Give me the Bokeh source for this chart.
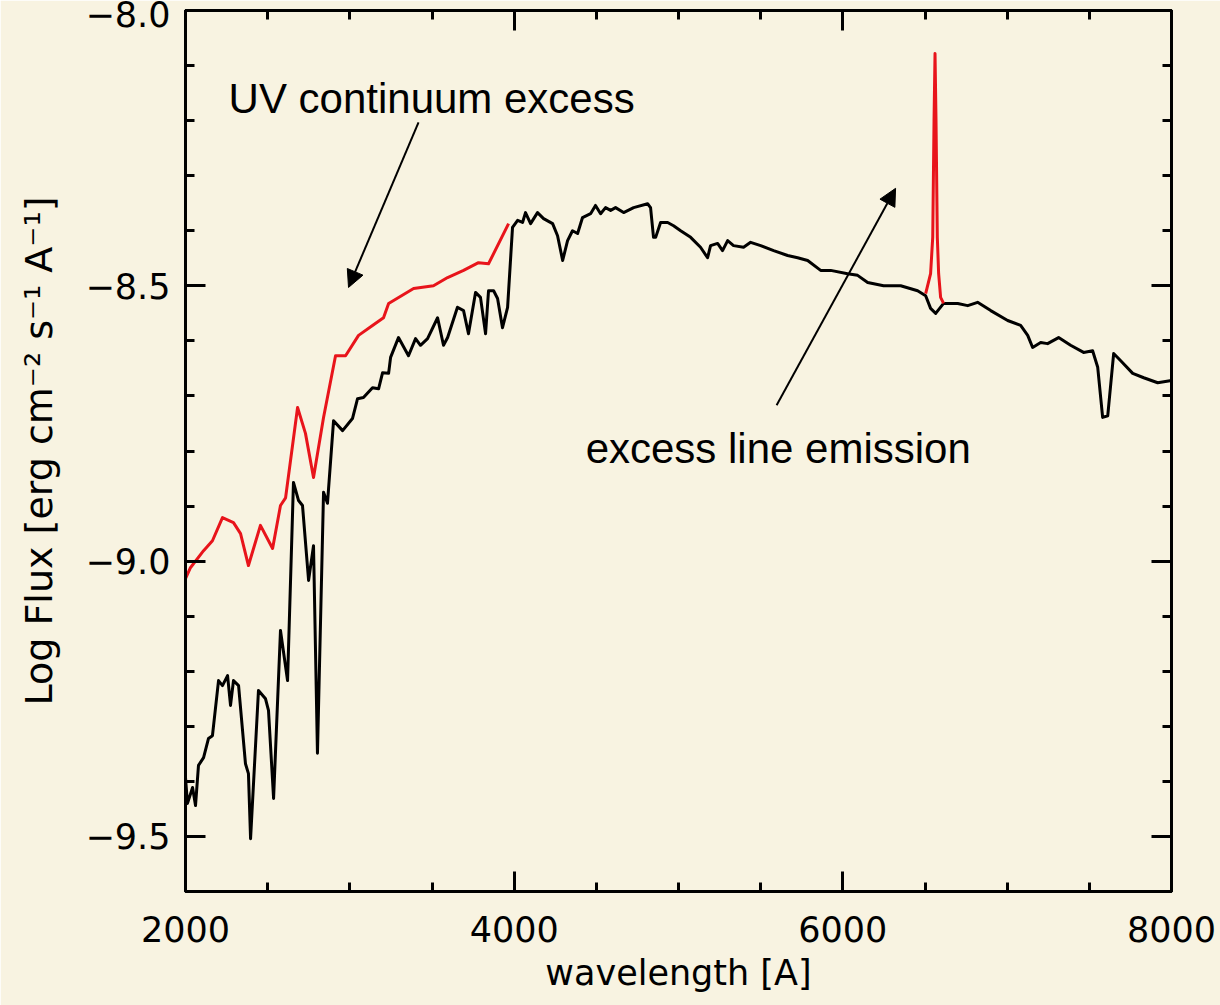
from bokeh.plotting import figure
from bokeh.models import (LinearAxis, FixedTicker, Range1d, Arrow, NormalHead, Label)
from bokeh.embed import file_html
from bokeh.resources import INLINE

# ---------------- data ----------------
black_wl = [2000, 2012, 2043, 2061, 2079, 2110, 2140, 2164, 2201, 2225, 2256, 2274, 2292, 2323,
            2365, 2383, 2396, 2444, 2487, 2505, 2536, 2578, 2621, 2657, 2688, 2712, 2749, 2779,
            2803, 2840, 2864, 2901, 2956, 3016, 3047, 3083, 3138, 3175, 3199, 3236, 3248, 3296,
            3357, 3400, 3430, 3473, 3534, 3570, 3595, 3655, 3692, 3722, 3765, 3795, 3826, 3844,
            3875, 3899, 3929, 3960, 3990, 4021, 4051, 4069, 4100, 4142, 4179, 4234, 4264, 4295,
            4325, 4355, 4386, 4416, 4465, 4495, 4526, 4556, 4587, 4617, 4666, 4727, 4812, 4830,
            4848, 4861, 4891, 4934, 4970, 5013, 5074, 5134, 5177, 5195, 5238, 5268, 5299, 5335,
            5396, 5439, 5500, 5579, 5664, 5725, 5786, 5865, 5926, 6029, 6090, 6151, 6248, 6352,
            6455, 6504, 6534, 6565, 6613, 6699, 6760, 6820, 6900, 7003, 7082, 7125, 7155, 7204,
            7246, 7313, 7386, 7465, 7520, 7551, 7581, 7612, 7648, 7691, 7764, 7831, 7916, 8000]
black_flux = [-9.393, -9.440, -9.411, -9.444, -9.371, -9.357, -9.322, -9.317, -9.217, -9.226,
              -9.208, -9.262, -9.217, -9.226, -9.368, -9.386, -9.504, -9.235, -9.250, -9.271,
              -9.431, -9.126, -9.217, -8.857, -8.890, -8.899, -9.035, -8.972, -9.349, -8.875,
              -8.895, -8.745, -8.763, -8.741, -8.705, -8.703, -8.685, -8.687, -8.658, -8.659,
              -8.630, -8.594, -8.627, -8.596, -8.608, -8.596, -8.558, -8.608, -8.594, -8.539,
              -8.545, -8.587, -8.512, -8.521, -8.587, -8.509, -8.509, -8.523, -8.576, -8.539,
              -8.394, -8.381, -8.385, -8.367, -8.387, -8.367, -8.378, -8.387, -8.409, -8.454,
              -8.418, -8.400, -8.405, -8.376, -8.369, -8.354, -8.369, -8.358, -8.363, -8.358,
              -8.367, -8.358, -8.351, -8.358, -8.412, -8.412, -8.385, -8.385, -8.391, -8.400,
              -8.412, -8.430, -8.449, -8.427, -8.423, -8.436, -8.418, -8.427, -8.430, -8.421,
              -8.427, -8.436, -8.445, -8.449, -8.454, -8.472, -8.472, -8.478, -8.481, -8.494,
              -8.500, -8.500, -8.509, -8.518, -8.541, -8.550, -8.532, -8.532, -8.536, -8.530,
              -8.545, -8.563, -8.572, -8.590, -8.612, -8.603, -8.605, -8.594, -8.608, -8.621,
              -8.618, -8.648, -8.739, -8.736, -8.623, -8.636, -8.659, -8.667, -8.676, -8.672]

uv_excess_wl = [2000, 2030, 2110, 2164, 2225, 2292, 2335, 2383, 2456, 2530, 2578, 2609, 2682,
                2730, 2779, 2840, 2913, 2974, 3053, 3138, 3205, 3236, 3388, 3509, 3595, 3692,
                3783, 3844, 3966]
uv_excess_flux = [-9.032, -9.012, -8.981, -8.963, -8.921, -8.930, -8.950, -9.008, -8.935,
                  -8.977, -8.899, -8.885, -8.721, -8.768, -8.848, -8.739, -8.627, -8.627,
                  -8.590, -8.572, -8.558, -8.532, -8.505, -8.500, -8.485, -8.472, -8.458,
                  -8.460, -8.387]

halpha_wl = [6504, 6534, 6547, 6555, 6561, 6567, 6575, 6583, 6595, 6613]
halpha_flux = [-8.514, -8.478, -8.412, -8.200, -8.078, -8.200, -8.412, -8.478, -8.521, -8.532]

x_major = [2000, 4000, 6000, 8000]
x_minor = [2500, 3000, 3500, 4500, 5000, 5500, 6500, 7000, 7500]
y_major = [-9.5, -9.0, -8.5, -8.0]
y_major_labels = ["\u22129.5", "\u22129.0", "\u22128.5", "\u22128.0"]
y_minor = [-9.6, -9.4, -9.3, -9.2, -9.1, -8.9, -8.8, -8.7, -8.6, -8.4, -8.3, -8.2, -8.1]

ann_uv_text = "UV continuum excess"
ann_uv_pos = (2262, -8.160)
ann_uv_arrow = (3418, -8.203, 2992, -8.503)
ann_line_text = "excess line emission"
ann_line_pos = (4435, -8.795)
ann_line_arrow = (5597, -8.717, 6321, -8.323)

BG = "#f8f3e1"
MAJOR_LEN = 20
MINOR_LEN = 9
TICK_FONT = "DejaVu Sans"
TICK_SIZE = "35px"

p = figure(width=1220, height=1005, x_range=Range1d(2000, 8000), y_range=Range1d(-9.6, -8.0),
           output_backend="svg", toolbar_location=None,
           min_border_left=185, min_border_right=49, min_border_top=10, min_border_bottom=114,
           background_fill_color=BG, border_fill_color=BG)
p.grid.visible = False
p.outline_line_color = "black"
p.outline_line_width = 3


def base_style(ax):
    ax.axis_line_width = 3
    ax.axis_line_color = "black"
    ax.major_tick_line_width = 3
    ax.minor_tick_line_width = 3
    ax.major_tick_line_color = "black"
    ax.minor_tick_line_color = "black"
    ax.major_tick_out = 0
    ax.minor_tick_out = 0


xa = p.xaxis[0]
ya = p.yaxis[0]
for ax, maj, mnr in ((xa, x_major, x_minor), (ya, y_major, y_minor)):
    base_style(ax)
    ax.ticker = FixedTicker(ticks=maj, minor_ticks=mnr)
    ax.major_tick_in = MAJOR_LEN
    ax.minor_tick_in = MINOR_LEN
    ax.major_label_text_font = TICK_FONT
    ax.major_label_text_font_size = TICK_SIZE
    ax.major_label_text_color = "black"

xa.major_label_standoff = 24
xa.axis_label = "wavelength [A]"
xa.axis_label_text_font = "DejaVu Sans"
xa.axis_label_text_font_size = "35px"
xa.axis_label_text_font_style = "normal"
xa.axis_label_text_color = "black"
xa.axis_label_standoff = 8

ya.major_label_standoff = 15
ya.major_label_overrides = {v: s for v, s in zip(y_major, y_major_labels)}
ya.axis_label = "Log Flux [erg cm\u207b\u00b2 s\u207b\u00b9 A\u207b\u00b9]"
ya.axis_label_text_font = "DejaVu Sans"
ya.axis_label_text_font_size = "38px"
ya.axis_label_text_font_style = "normal"
ya.axis_label_text_color = "black"
ya.axis_label_standoff = 22

# mirrored tick marks on the top and right edges (label-free axes:
# the tick positions are passed as "minor" ticks so that no labels are drawn)
for side, ticks_list in (("above", (x_major, x_minor)), ("right", (y_major, y_minor))):
    for ticks, length in zip(ticks_list, (MAJOR_LEN, MINOR_LEN)):
        ax = LinearAxis(ticker=FixedTicker(ticks=[], minor_ticks=ticks))
        base_style(ax)
        ax.minor_tick_in = length
        ax.major_label_standoff = 0
        p.add_layout(ax, side)

p.line(black_wl, black_flux, line_color="black", line_width=3, line_join="round")
p.line(uv_excess_wl, uv_excess_flux, line_color="#e8141b", line_width=3, line_join="round")
p.line(halpha_wl, halpha_flux, line_color="#e8141b", line_width=3, line_join="round")

for (x0, y0, x1, y1) in (ann_uv_arrow, ann_line_arrow):
    p.add_layout(Arrow(end=NormalHead(size=17, fill_color="black", line_color="black", line_width=1),
                       x_start=x0, y_start=y0, x_end=x1, y_end=y1,
                       line_color="black", line_width=2))

for txt, (x, y) in ((ann_uv_text, ann_uv_pos), (ann_line_text, ann_line_pos)):
    p.add_layout(Label(x=x, y=y, text=txt, text_font="Liberation Sans", text_font_size="42px",
                       text_color="black", text_baseline="alphabetic", text_align="left"))

open("out.html", "w").write(file_html(p, INLINE))
